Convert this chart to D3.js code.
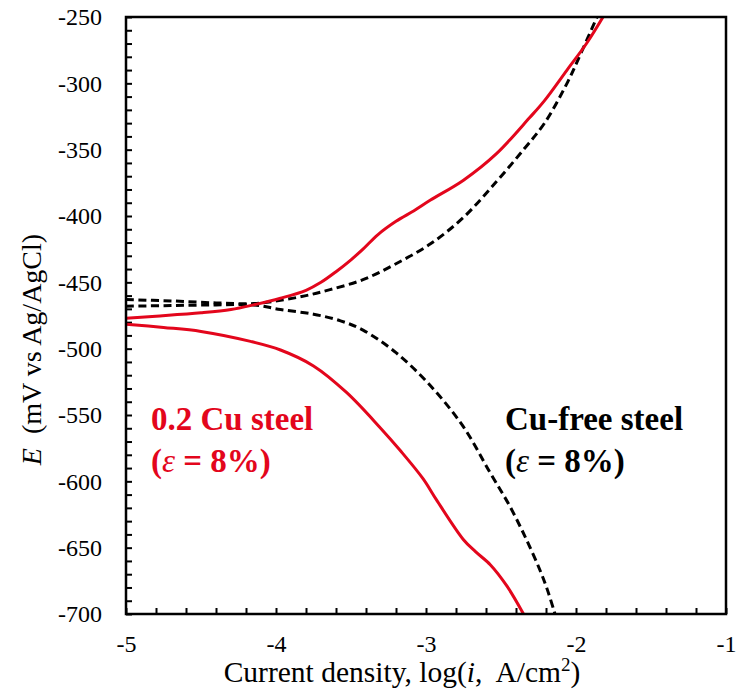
<!DOCTYPE html>
<html>
<head>
<meta charset="utf-8">
<script src="https://cdn.jsdelivr.net/npm/d3@7"></script>
<style>
  html, body { margin: 0; padding: 0; background: #fff; }
  svg { display: block; font-family: "Liberation Serif", "Times New Roman", serif; }
  text { white-space: pre; }
</style>
</head>
<body>
<svg id="chart" width="736" height="697"></svg>
<script>
// Polarization curves: potential E (mV vs Ag/AgCl) against log current density (A/cm2)

// 0.2 Cu steel, anodic branch
const cuAnodicLogI = [-5.00, -4.80, -4.50, -4.30, -4.15, -3.97, -3.80, -3.70, -3.60, -3.50, -3.42, -3.32, -3.20, -3.08, -2.97, -2.75, -2.53, -2.31, -2.21, -2.06, -1.93, -1.82];
const cuAnodicE    = [-477, -475.5, -473, -470.5, -467, -462, -456, -450, -442, -433, -425, -414, -404, -396, -388, -373, -353, -326, -313, -290, -270, -250];

// 0.2 Cu steel, cathodic branch
const cuCathodicLogI = [-5.00, -4.75, -4.50, -4.17, -3.97, -3.75, -3.53, -3.31, -3.17, -3.02, -2.93, -2.75, -2.67, -2.57, -2.46, -2.35];
const cuCathodicE    = [-481.5, -484, -487, -494.5, -501, -513, -533, -559, -577, -598, -614, -644, -653, -663, -679, -700];

// Cu-free steel, anodic branch
const freeAnodicLogI = [-5.00, -4.70, -4.40, -4.15, -3.97, -3.80, -3.64, -3.42, -3.20, -2.97, -2.75, -2.53, -2.35, -2.21, -2.06, -1.97, -1.86];
const freeAnodicE    = [-463, -464, -465.5, -466, -463.5, -460, -455.5, -448, -436, -421, -401, -374, -350, -330, -300, -278, -250];

// Cu-free steel, cathodic branch
const freeCathodicLogI = [-5.00, -4.70, -4.40, -4.15, -3.97, -3.75, -3.57, -3.42, -3.20, -2.97, -2.75, -2.57, -2.44, -2.33, -2.24, -2.19, -2.14];
const freeCathodicE    = [-468, -467.5, -467, -467, -470.5, -474, -479, -486, -503, -528, -559, -594, -619, -644, -667, -682, -700];

// Axis ticks
const xTickValues = [-5, -4, -3, -2, -1];
const yTickValues = [-250, -300, -350, -400, -450, -500, -550, -600, -650, -700];

const RED = "#e3061c";

const svg = d3.select("#chart");
const margin = { left: 126, right: 10, top: 17, bottom: 83 };
const W = 736, H = 697;
const x0 = margin.left, x1 = W - margin.right;
const y0 = margin.top, y1 = H - margin.bottom;

const x = d3.scaleLinear().domain([-5, -1]).range([x0, x1]);
const y = d3.scaleLinear().domain([-700, -250]).range([y1, y0]);

svg.append("defs").append("clipPath").attr("id", "plot-clip")
  .append("rect").attr("x", x0).attr("y", y0).attr("width", x1 - x0).attr("height", y1 - y0);

// Minor + major ticks pointing inward on left and bottom axes
const xMinor = d3.range(-5, -0.999, 0.2).map(v => +v.toFixed(2));
const yMinor = d3.range(-700, -249, 10);

const leftAxis = d3.axisRight(y).tickValues(yMinor).tickSize(6).tickFormat("");
svg.append("g").attr("transform", `translate(${x0},0)`).call(leftAxis)
  .call(g => g.select(".domain").remove())
  .call(g => g.selectAll("line").attr("stroke", "#000").attr("stroke-width", 2));

const bottomAxis = d3.axisTop(x).tickValues(xMinor).tickSize(6).tickFormat("");
svg.append("g").attr("transform", `translate(0,${y1})`).call(bottomAxis)
  .call(g => g.select(".domain").remove())
  .call(g => g.selectAll("line").attr("stroke", "#000").attr("stroke-width", 2));

// Tick labels (plain hyphen for the sign)
const fmt = d => String(d);
const yLabels = d3.axisLeft(y).tickValues(yTickValues).tickSize(0).tickPadding(24).tickFormat(fmt);
svg.append("g").attr("transform", `translate(${x0},0)`).call(yLabels)
  .call(g => g.select(".domain").remove())
  .call(g => g.selectAll("text").attr("font-family", "Liberation Serif").attr("font-size", 24).attr("fill", "#000"));

const xLabels = d3.axisBottom(x).tickValues(xTickValues).tickSize(0).tickPadding(21).tickFormat(fmt);
svg.append("g").attr("transform", `translate(0,${y1})`).call(xLabels)
  .call(g => g.select(".domain").remove())
  .call(g => g.selectAll("text").attr("font-family", "Liberation Serif").attr("font-size", 24).attr("fill", "#000"));

// Curves
const line = d3.line()
  .x(d => x(d[0]))
  .y(d => y(d[1]))
  .curve(d3.curveCatmullRom.alpha(0.5));

const zip = (a, b) => a.map((v, i) => [v, b[i]]);

const curves = svg.append("g").attr("clip-path", "url(#plot-clip)");

[[freeAnodicLogI, freeAnodicE], [freeCathodicLogI, freeCathodicE]].forEach(([lx, ly]) => {
  curves.append("path")
    .attr("d", line(zip(lx, ly)))
    .attr("fill", "none")
    .attr("stroke", "#000")
    .attr("stroke-width", 3)
    .attr("stroke-dasharray", "8,4.5");
});

[[cuAnodicLogI, cuAnodicE], [cuCathodicLogI, cuCathodicE]].forEach(([lx, ly]) => {
  curves.append("path")
    .attr("d", line(zip(lx, ly)))
    .attr("fill", "none")
    .attr("stroke", RED)
    .attr("stroke-width", 3);
});

// Frame
svg.append("rect")
  .attr("x", x0).attr("y", y0).attr("width", x1 - x0).attr("height", y1 - y0)
  .attr("fill", "none").attr("stroke", "#000").attr("stroke-width", 2.5);

// Series annotations
const ann = [
  { lines: ["0.2 Cu steel", "(\u03b5 = 8%)"], x: 151, y: 430, color: RED },
  { lines: ["Cu-free steel", "(\u03b5 = 8%)"], x: 505, y: 430, color: "#000" }
];
ann.forEach(a => {
  const t = svg.append("text")
    .attr("x", a.x).attr("y", a.y)
    .attr("fill", a.color)
    .attr("font-family", "Liberation Serif")
    .attr("font-weight", "bold")
    .attr("font-size", 33);
  t.append("tspan").attr("x", a.x).attr("y", a.y).text(a.lines[0]);
  const second = t.append("tspan").attr("x", a.x).attr("y", a.y + 42);
  second.append("tspan").text("(");
  second.append("tspan").attr("font-style", "italic").attr("font-weight", "normal").text("\u03b5");
  second.append("tspan").text(" = 8%)");
});

// Axis titles
const xt = svg.append("text")
  .attr("x", (x0 + x1) / 2 - 24).attr("y", 682)
  .attr("text-anchor", "middle")
  .attr("font-family", "Liberation Serif")
  .attr("font-size", 29.5)
  .attr("fill", "#000");
xt.append("tspan").text("Current density, log(");
xt.append("tspan").attr("font-style", "italic").text("i");
xt.append("tspan").text(",  A/cm");
xt.append("tspan").attr("font-size", 19).attr("dy", -11).text("2");
xt.append("tspan").attr("dy", 11).text(")");

const yt = svg.append("text")
  .attr("transform", `translate(41,${(y0 + y1) / 2 + 34}) rotate(-90)`)
  .attr("text-anchor", "middle")
  .attr("font-family", "Liberation Serif")
  .attr("font-size", 28)
  .attr("fill", "#000");
yt.append("tspan").attr("font-style", "italic").text("E");
yt.append("tspan").text("  (mV vs Ag/AgCl)");
</script>
</body>
</html>
